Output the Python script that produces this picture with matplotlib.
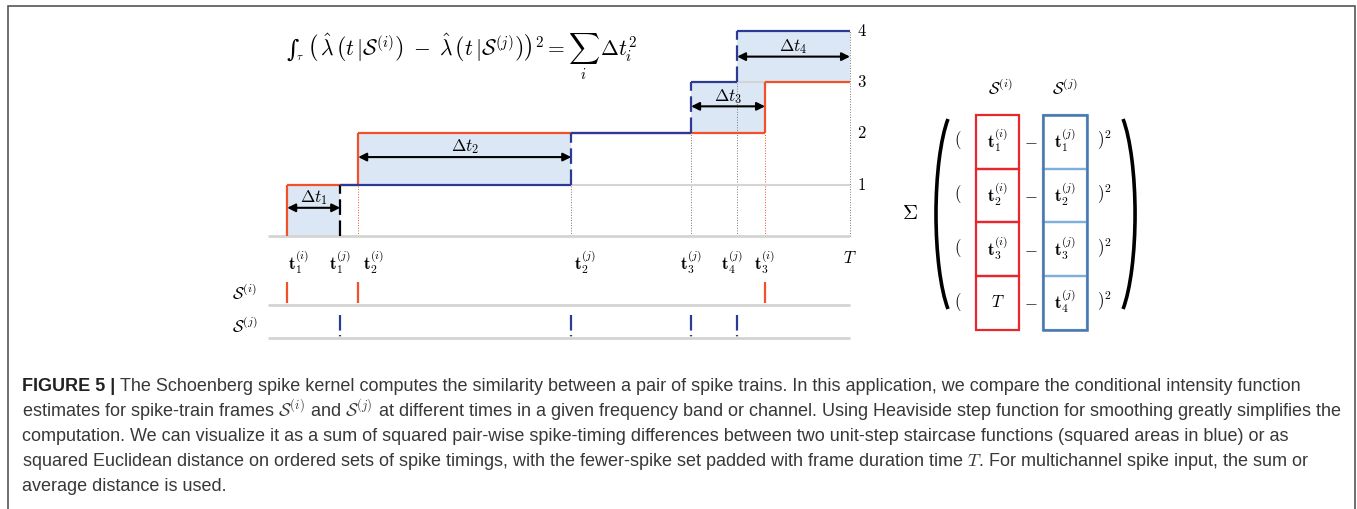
import matplotlib.pyplot as plt
from matplotlib.patches import Rectangle, Arc
import numpy as np

plt.rcParams['mathtext.fontset'] = 'cm'
plt.rcParams['font.family'] = ['Liberation Sans', 'DejaVu Sans']

# spike trains inside one frame [0, T]
T = 10.0
spikes_i = [0.33, 1.55, 8.54]
spikes_j = [1.24, 5.21, 7.27, 8.06]
names_i = [r'$\mathbf{t}_1^{(i)}$', r'$\mathbf{t}_2^{(i)}$', r'$\mathbf{t}_3^{(i)}$']
names_j = [r'$\mathbf{t}_1^{(j)}$', r'$\mathbf{t}_2^{(j)}$', r'$\mathbf{t}_3^{(j)}$', r'$\mathbf{t}_4^{(j)}$']
delta_names = [r'$\Delta t_1$', r'$\Delta t_2$', r'$\Delta t_3$', r'$\Delta t_4$']
levels = [1, 2, 3, 4]
# grey guide lines: (level, start, end)
guide_lvl = [1, 3]
guide_from = [5.21, 8.06]
guide_to = [10.0, 8.54]
# ordered sets, fewer-spike set padded with T
set_i = names_i + [r'$T$']
set_j = names_j

formula = (r'$\left(\,\hat\lambda\,\left(t\,|\mathcal{S}^{(i)}\right)\;-\;'
           r'\hat\lambda\,\left(t\,|\mathcal{S}^{(j)}\right)\right)^2 = \sum_i\,\Delta t_i^2$')
caption = [
    'The Schoenberg spike kernel computes the similarity between a pair of spike trains. '
    'In this application, we compare the conditional intensity function',
    r'estimates for spike-train frames $\mathcal{S}^{(i)}$ and $\mathcal{S}^{(j)}$ at different '
    'times in a given frequency band or channel. Using Heaviside step function for smoothing greatly simplifies the',
    'computation. We can visualize it as a sum of squared pair-wise spike-timing differences '
    'between two unit-step staircase functions (squared areas in blue) or as',
    'squared Euclidean distance on ordered sets of spike timings, with the fewer-spike set '
    r'padded with frame duration time $T$. For multichannel spike input, the sum or',
    'average distance is used.',
]

RED = '#f2502a'
BLUE = '#2c3a96'
FILL = '#dbe7f4'
GRID = '#d4d4d4'
DOT = '#777777'
MRED = '#e8262d'
MBLUE = '#4a78ae'
MBLUE2 = '#7db0dc'
CAP = 13

W, H = 1357, 509
fig = plt.figure(figsize=(W / 100, H / 100), dpi=100)

# ---- staircase panel ----
ax = fig.add_axes([268 / W, 1 - 236 / H, 582 / W, 205 / H])
ax.set_xlim(0, T)
ax.set_ylim(0, 4)
ax.axis('off')

grid = np.unique([0.0] + spikes_i + spikes_j + [T])
ci = np.searchsorted(spikes_i, grid, side='right')
cj = np.searchsorted(spikes_j, grid, side='right')
ax.fill_between(grid, ci, cj, step='post', color=FILL, lw=0, zorder=1)

ax.hlines(0, 0, T, color=GRID, lw=2, zorder=1.5, clip_on=False)
ax.hlines(guide_lvl, guide_from, guide_to, color=GRID, lw=1.5, zorder=1.5)

ends_i = spikes_i[1:] + [T]
for k, (t, e) in enumerate(zip(spikes_i, ends_i)):
    ax.plot([t, t], [k, k + 1], color=RED, lw=1.6, zorder=2, solid_capstyle='butt')
    ax.plot([t, e], [k + 1, k + 1], color=RED, lw=1.6, zorder=2, solid_capstyle='butt')
    if k > 0:
        ax.plot([t, t], [0, k], color=RED, lw=0.7, ls=':', zorder=1.2)

ends_j = spikes_j[1:] + [T]
for k, (t, e) in enumerate(zip(spikes_j, ends_j)):
    c = 'black' if k == 0 else BLUE
    ax.plot([t, t], [k, k + 1], color=c, lw=1.6, ls=(0, (7, 2.5)), zorder=3)
    ax.plot([t, e], [k + 1, k + 1], color=BLUE, lw=1.6, zorder=3, solid_capstyle='butt',
            clip_on=False)
    if k > 0:
        ax.plot([t, t], [0, k], color=DOT, lw=0.7, ls=':', zorder=1.2)
ax.plot([T, T], [0, max(levels)], color=DOT, lw=0.7, ls=':', zorder=1.2, clip_on=False)

arrow_y = [0.55, 1.54, 2.53, 3.5]
padded_i = spikes_i + [T]
for a, b, y, name in zip(padded_i, spikes_j, arrow_y, delta_names):
    lo, hi = min(a, b), max(a, b)
    ax.annotate('', xy=(hi, y), xytext=(lo, y),
                arrowprops=dict(arrowstyle='<|-|>', color='black', lw=1.5,
                                shrinkA=0, shrinkB=0, mutation_scale=12), zorder=4)
    ax.text((lo + hi) / 2, y + 0.2, name, ha='center', va='center', fontsize=12.5, zorder=4)

for lv in levels:
    ax.text(T + 0.12, lv, '$%d$' % lv, ha='left', va='center', fontsize=12)

# time labels under the staircase
label_dx_i = [0.19, 0.26, 0.0]
label_dx_j = [0.0, 0.24, 0.0, -0.09]
for t, name, dx in zip(spikes_i, names_i, label_dx_i):
    ax.text(t + dx, -0.51, name, ha='center', va='center', fontsize=12)
for t, name, dx in zip(spikes_j, names_j, label_dx_j):
    ax.text(t + dx, -0.51, name, ha='center', va='center', fontsize=12)
ax.text(T, -0.42, r'$T$', ha='center', va='center', fontsize=12)

# ---- spike rasters ----
axr = fig.add_axes([268 / W, 1 - 341.3 / H, 582 / W, 69.3 / H])
axr.set_xlim(0, T)
axr.set_ylim(-0.1, 2.0)
axr.axis('off')
axr.eventplot([spikes_i, spikes_j], lineoffsets=[1.38, 0.36], linelengths=0.65,
              colors=[RED, BLUE], linewidths=[1.6, 1.6],
              linestyles=['solid', (0, (7.0, 2.0, 0.6, 10))])
axr.hlines([1, 0], 0, T, color=GRID, lw=2, clip_on=False)
axr.text(-0.4, 1.38, r'$\mathcal{S}^{(i)}$', ha='center', va='center', fontsize=12)
axr.text(-0.4, 0.36, r'$\mathcal{S}^{(j)}$', ha='center', va='center', fontsize=12)

# ---- formula ----
fig.text(286 / W, 1 - 57 / H, '\u222b', ha='left', va='baseline', fontsize=17,
         family='DejaVu Serif')
fig.text(296 / W, 1 - 60 / H, r'$\tau$', ha='left', va='baseline', fontsize=8)
fig.text(307 / W, 1 - 56 / H, formula, ha='left', va='baseline', fontsize=15.5)

# ---- squared distance of ordered sets ----
axm = fig.add_axes([880 / W, 1 - 345 / H, 280 / W, 285 / H])
axm.set_xlim(-1.741, 2.407)
axm.set_ylim(4.279, -1.023)
axm.axis('off')
n = len(set_j)
for r in range(n):
    axm.add_patch(Rectangle((-0.32, r), 0.64, 1, fill=False, ec=MRED, lw=1.6))
    axm.add_patch(Rectangle((1 - 0.32, r), 0.64, 1, fill=False, ec=MBLUE2, lw=1.6))
    axm.text(0, r + 0.47, set_i[r], ha='center', va='center', fontsize=12)
    axm.text(1, r + 0.47, set_j[r], ha='center', va='center', fontsize=12)
    axm.text(-0.585, r + 0.47, r'$($', ha='center', va='center', fontsize=12)
    axm.text(0.5, r + 0.5, r'$-$', ha='center', va='center', fontsize=12)
    axm.text(1.47, r + 0.47, r'$)^2$', ha='left', va='center', fontsize=12)
axm.add_patch(Rectangle((1 - 0.32, 0), 0.64, n, fill=False, ec=MBLUE, lw=1.8))
axm.text(0.04, -0.5, r'$\mathcal{S}^{(i)}$', ha='center', va='center', fontsize=12)
axm.text(1.0, -0.5, r'$\mathcal{S}^{(j)}$', ha='center', va='center', fontsize=12)
axm.text(-1.296, 1.84, r'$\Sigma$', ha='center', va='center', fontsize=15)
axm.add_patch(Arc((-0.553, 1.842), 0.717, 4.093, theta1=95.84, theta2=264.16,
                  lw=2.6, color='black'))
axm.add_patch(Arc((1.679, 1.842), 0.717, 4.093, theta1=-84.16, theta2=84.16,
                  lw=2.6, color='black'))

# ---- caption ----
head = fig.text(22 / W, 1 - 391 / H, 'FIGURE 5 | ', ha='left', va='baseline',
                fontsize=CAP, fontweight='bold', color='#222222')
fig.add_artist(plt.Annotation(caption[0], xy=(1, 0), xycoords=head, va='bottom',
                              ha='left', fontsize=CAP, color='#383838',
                              family=['Liberation Sans', 'DejaVu Sans']))
for k, line in enumerate(caption[1:]):
    fig.text(22 / W, 1 - (416 + 25 * k) / H, line, ha='left', va='baseline',
             fontsize=CAP, color='#383838')

fig.add_artist(Rectangle((7.5 / W, -0.1), (1355 - 7.5) / W, 1.1 - 6.5 / H,
                         transform=fig.transFigure, fill=False, ec='#555555', lw=1.2))

fig.savefig('out.png', dpi=100)
